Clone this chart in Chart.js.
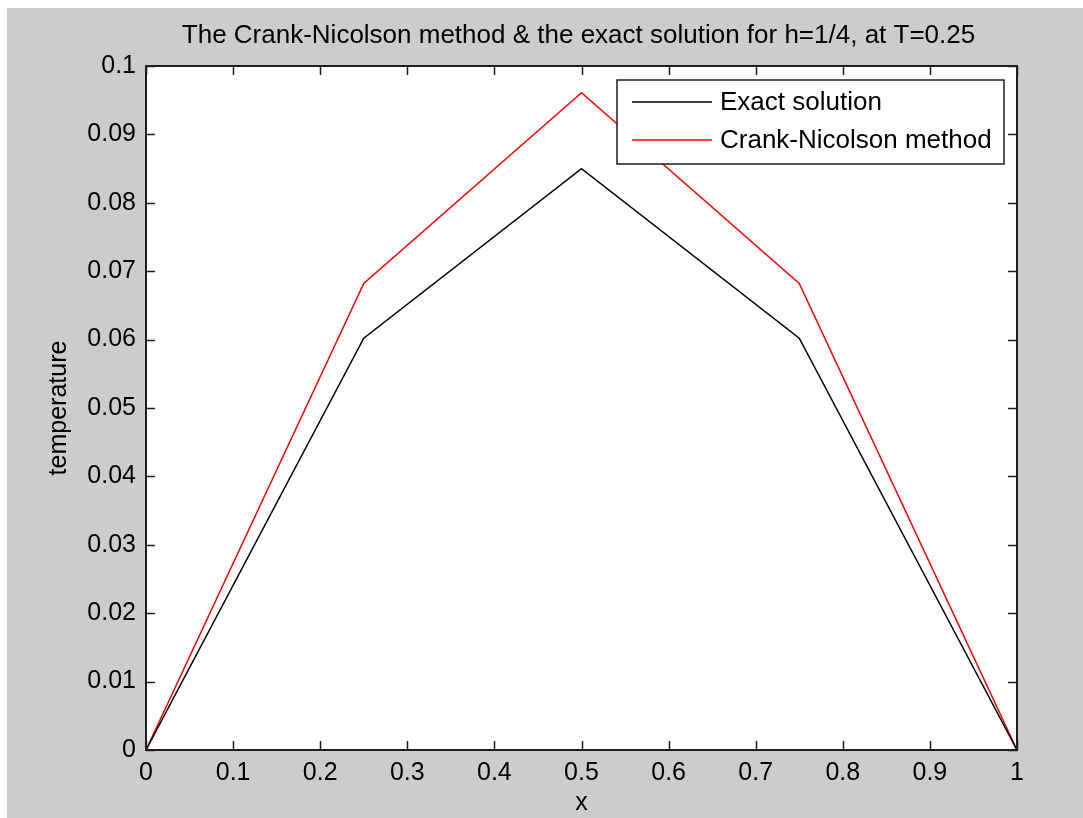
<!DOCTYPE html>
<html>
<head>
<meta charset="utf-8">
<script src="https://cdn.jsdelivr.net/npm/chart.js@4/dist/chart.umd.min.js"></script>
<style>
  html, body { margin: 0; padding: 0; background: #fff; }
  canvas { display: block; }
</style>
</head>
<body>
<canvas id="heat" width="1083" height="818"></canvas>
<script>
// grid points for h = 1/4
const xs = [0, 0.25, 0.5, 0.75, 1];
const exactVals = [0, 0.0602, 0.085, 0.0602, 0];
const crankVals = [0, 0.0682, 0.0961, 0.0682, 0];
const seriesNames = ['Exact solution', 'Crank-Nicolson method'];
const seriesColors = ['#000000', '#ff0000'];
const chartTitle = 'The Crank-Nicolson method & the exact solution for h=1/4, at T=0.25';

const FONT = "'Liberation Sans', Arial, sans-serif";

function toPoints(vals) {
    return xs.map((x, i) => ({ x: x, y: vals[i] }));
}

// figure background, title over the axes, axes box with inward ticks, legend
const matlabLook = {
    id: 'matlabLook',
    beforeDraw(chart) {
        const c = chart.ctx;
        c.save();
        c.fillStyle = '#ffffff';
        c.fillRect(0, 0, chart.width, chart.height);
        c.fillStyle = '#cccccc';
        c.fillRect(7, 8, chart.width - 7, chart.height - 8);
        const a = chart.chartArea;
        c.fillStyle = '#ffffff';
        c.fillRect(a.left, a.top, a.right - a.left, a.bottom - a.top);
        c.restore();
    },
    afterDraw(chart) {
        const c = chart.ctx;
        const a = chart.chartArea;
        const sx = chart.scales.x, sy = chart.scales.y;
        const tl = 9;
        c.save();

        // title, centred over the axes like matlab does
        c.fillStyle = '#000000';
        c.font = '26px ' + FONT;
        c.textAlign = 'center';
        c.textBaseline = 'middle';
        c.fillText(chartTitle, (a.left + a.right) / 2 - 3, 36);

        c.strokeStyle = '#1e1e1e';
        c.lineWidth = 1.5;
        c.beginPath();
        sx.ticks.forEach(t => {
            const px = Math.round(sx.getPixelForValue(t.value)) + 0.5;
            c.moveTo(px, a.bottom); c.lineTo(px, a.bottom - tl);
            c.moveTo(px, a.top); c.lineTo(px, a.top + tl);
        });
        sy.ticks.forEach(t => {
            const py = Math.round(sy.getPixelForValue(t.value)) + 0.5;
            c.moveTo(a.left, py); c.lineTo(a.left + tl, py);
            c.moveTo(a.right, py); c.lineTo(a.right - tl, py);
        });
        c.stroke();
        c.lineWidth = 2;
        c.strokeRect(a.left, a.top, a.right - a.left, a.bottom - a.top);

        // legend box
        const lx = 617, ly = 80, lw = 387, lh = 84;
        c.fillStyle = '#ffffff';
        c.fillRect(lx, ly, lw, lh);
        c.lineWidth = 1.5;
        c.strokeStyle = '#1e1e1e';
        c.strokeRect(lx, ly, lw, lh);
        c.font = '26px ' + FONT;
        c.textBaseline = 'middle';
        c.textAlign = 'left';
        chart.data.datasets.forEach((ds, i) => {
            const y = 102 + i * 38;
            c.strokeStyle = ds.borderColor;
            c.lineWidth = 1.5;
            c.beginPath();
            c.moveTo(632, y); c.lineTo(712, y);
            c.stroke();
            c.fillStyle = '#000000';
            c.fillText(ds.label, 720, y + 1);
        });
        c.restore();
    }
};

new Chart(document.getElementById('heat'), {
    type: 'line',
    data: {
        datasets: [{
            label: seriesNames[0],
            data: toPoints(exactVals),
            borderColor: seriesColors[0],
            borderWidth: 1.5,
            pointRadius: 0,
            tension: 0,
            fill: false
        }, {
            label: seriesNames[1],
            data: toPoints(crankVals),
            borderColor: seriesColors[1],
            borderWidth: 1.5,
            pointRadius: 0,
            tension: 0,
            fill: false
        }]
    },
    options: {
        responsive: false,
        animation: false,
        devicePixelRatio: 1,
        layout: { padding: { left: 0, right: 66, top: 66, bottom: 0 } },
        plugins: {
            legend: { display: false },
            tooltip: { enabled: false },
            title: { display: false }
        },
        scales: {
            x: {
                type: 'linear',
                min: 0,
                max: 1,
                grid: { display: false, drawTicks: false },
                border: { display: false },
                ticks: {
                    stepSize: 0.1,
                    color: '#000',
                    padding: 8,
                    maxRotation: 0,
                    font: { family: FONT, size: 25 },
                    callback: v => String(+v.toFixed(2))
                },
                title: {
                    display: true,
                    text: 'x',
                    color: '#000',
                    font: { family: FONT, size: 25 },
                    padding: { top: 0, bottom: 0 }
                },
                afterFit: s => { s.height = 68; }
            },
            y: {
                min: 0,
                max: 0.1,
                grid: { display: false, drawTicks: false },
                border: { display: false },
                ticks: {
                    stepSize: 0.01,
                    color: '#000',
                    padding: 10,
                    font: { family: FONT, size: 25 },
                    callback: v => String(+v.toFixed(3))
                },
                title: {
                    display: true,
                    text: 'temperature',
                    color: '#000',
                    font: { family: FONT, size: 25 },
                    padding: { top: 44, bottom: 0 }
                },
                afterFit: s => { s.width = 146; }
            }
        }
    },
    plugins: [matlabLook]
});
</script>
</body>
</html>
